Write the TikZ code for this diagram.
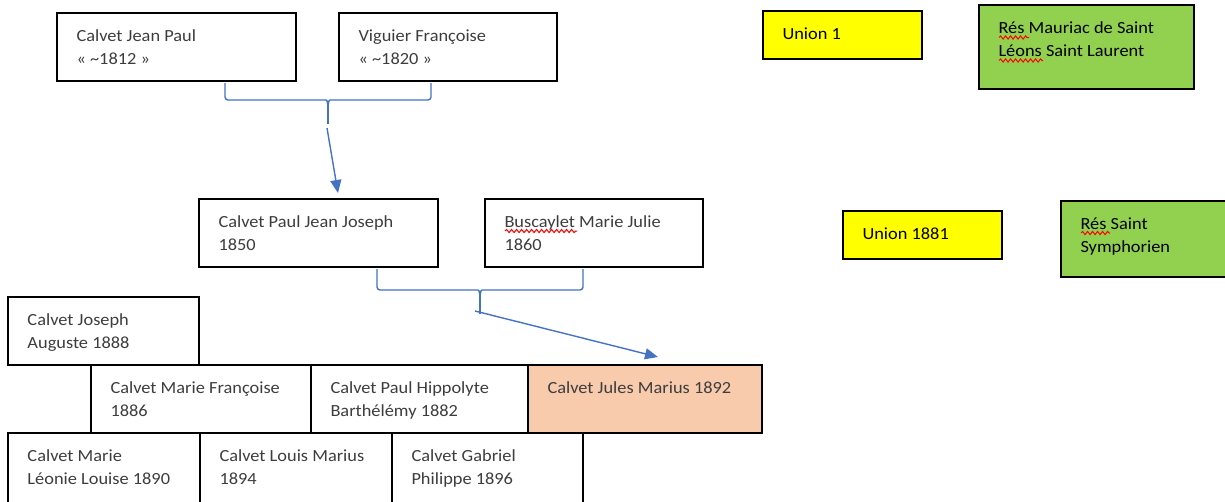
\documentclass[tikz,border=0pt]{standalone}
\usepackage{fontspec}
\setmainfont{Carlito}[FakeStretch=1.08]
\usetikzlibrary{arrows.meta,decorations.pathmorphing}
\definecolor{linkblue}{HTML}{4472C4}
\definecolor{unionyellow}{HTML}{FFFF00}
\definecolor{resgreen}{HTML}{92D050}
\definecolor{peach}{HTML}{F8CBAD}
\newcommand{\bxt}[3]{\parbox[c][#2][t]{#1}{\raggedright\leftskip=19.5pt\relax\vspace*{11.9pt}\strut #3}}
\tikzset{
  box/.style={draw=black, line width=1.2pt, inner sep=0pt, outer sep=0pt, anchor=north west,
    font=\fontsize{17}{23}\selectfont, text=black!76},
  cbox/.style={box, text=black},
  conn/.style={draw=linkblue, line width=1.4pt},
  arr/.style={conn, -{Triangle[length=13pt,width=11pt]}},
  squig/.style={draw=red, line width=1pt, decorate, decoration={snake, amplitude=1.6pt, segment length=5pt}}
}
\begin{document}
\begin{tikzpicture}[x=1pt,y=-1pt]
\useasboundingbox (0,0) rectangle (1225,501);
\clip (0,0) rectangle (1225,501);
% parents
\node[box] (A) at (57,13) {\bxt{239pt}{68pt}{Calvet Jean Paul\\« \textasciitilde1812 »}};
\node[box] (B) at (339,13) {\bxt{218pt}{68pt}{Viguier Françoise\\« \textasciitilde1820 »}};
\node[box] (C) at (199,199) {\bxt{239pt}{68pt}{Calvet Paul Jean Joseph\\1850}};
\node[box] (D) at (485,199) {\bxt{218pt}{68pt}{Buscaylet Marie Julie\\1860}};
% unions and residences
\node[cbox, fill=unionyellow] (U1) at (763,11) {\bxt{159pt}{48pt}{Union 1}};
\node[cbox, fill=resgreen] (R1) at (979,5) {\bxt{215pt}{84pt}{Rés Mauriac de Saint\\Léons Saint Laurent}};
\node[cbox, fill=unionyellow] (U2) at (843,211) {\bxt{159pt}{48pt}{Union 1881}};
\node[cbox, fill=resgreen] (R2) at (1061,201) {\bxt{190pt}{76pt}{Rés Saint\\Symphorien}};
% children
\node[box] (K1) at (8,297) {\bxt{191pt}{68pt}{Calvet Joseph\\Auguste 1888}};
\node[box] (K2) at (91,365) {\bxt{220pt}{68pt}{Calvet Marie Françoise\\1886}};
\node[box] (K3) at (311,365) {\bxt{217pt}{68pt}{Calvet Paul Hippolyte\\Barthélémy 1882}};
\node[box, fill=peach] (K4) at (528,365) {\bxt{234pt}{68pt}{Calvet Jules Marius 1892}};
\node[box] (K5) at (8,433) {\bxt{192pt}{80pt}{Calvet Marie\\Léonie Louise 1890}};
\node[box] (K6) at (200,433) {\bxt{192pt}{80pt}{Calvet Louis Marius\\1894}};
\node[box] (K7) at (392,433) {\bxt{191pt}{80pt}{Calvet Gabriel\\Philippe 1896}};
% spell-check squiggles
\draw[squig] (505,231) -- (577,231);
\draw[squig] (999,37.5) -- (1029,37.5);
\draw[squig] (999,60.5) -- (1043,60.5);
\draw[squig] (1081,233) -- (1110,233);
% union 1 connector
\coordinate (j1) at (328,106);
\coordinate (s1) at (328,124);
\coordinate (t1) at (327,128);
\draw[conn, rounded corners=3pt] ([xshift=48.5pt,yshift=-2pt]A.south) |- (323,100) .. controls (327,100) .. (j1);
\draw[conn, rounded corners=3pt] ([xshift=-17pt,yshift=-2pt]B.south) |- (333,100) .. controls (329,100) .. (j1);
\draw[conn] (j1) -- (s1);
\draw[arr] (t1) -- ([xshift=19.5pt,yshift=6pt]C.north);
% union 1881 connector
\coordinate (j2) at (480,296);
\coordinate (t2) at (475,311);
\draw[conn, rounded corners=3pt] ([xshift=58.5pt,yshift=-2pt]C.south) |- (475,290) .. controls (479,290) .. (j2);
\draw[conn, rounded corners=3pt] ([xshift=-11pt,yshift=-2pt]D.south) |- (485,290) .. controls (481,290) .. (j2);
\draw[conn] (j2) -- (480,314);
\draw[arr] (t2) -- ([xshift=13pt,yshift=8pt]K4.north);
\end{tikzpicture}
\end{document}
